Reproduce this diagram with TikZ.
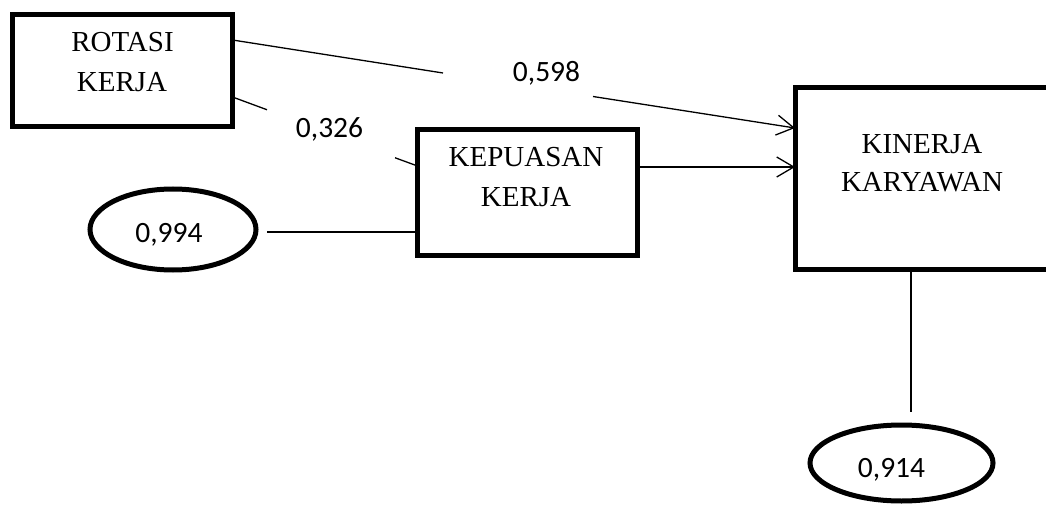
\documentclass[tikz,border=0pt]{standalone}
\usepackage{fontspec}
\setmainfont{Liberation Serif}
\newfontfamily\numfont{Carlito}
\usetikzlibrary{shapes.geometric,arrows.meta}
\begin{document}
\begin{tikzpicture}[x=1pt,y=-1pt,
  box/.style={draw,line width=5pt,rectangle,inner sep=0pt,outer sep=0pt},
  oval/.style={draw,line width=5pt,ellipse,inner sep=0pt,outer sep=0pt},
  lbl/.style={anchor=base,inner sep=0pt,font=\fontsize{29}{35}\selectfont},
  num/.style={anchor=base,inner sep=0pt,font=\numfont\fontsize{29.5}{35}\selectfont},
  conn/.style={line width=1.3pt},
  arr/.style={conn,-{Straight Barb[length=17pt,width=20pt,line width=1.3pt]}}]
\useasboundingbox (0,0) rectangle (1046,505);
\clip (0,0) rectangle (1046,505);
% boxes and ovals
\node[box,minimum width=220pt,minimum height=112pt] (rk) at (122.5,70.5) {};
\node[box,minimum width=220pt,minimum height=126pt] (kp) at (527.5,192.5) {};
\node[box,minimum width=330pt,minimum height=182pt] (kk) at (960,178.5) {};
\node[oval,minimum width=166pt,minimum height=81pt] (e1) at (173,229.5) {};
\node[oval,minimum width=183pt,minimum height=76pt] (e2) at (901.5,463) {};
% texts
\node[lbl] (rk1) at (122.5,52) {ROTASI};
\node[lbl] (rk2) at (122,92) {KERJA};
\node[lbl] (kp1) at (526,167) {KEPUASAN};
\node[lbl] (kp2) at (526,207) {KERJA};
\node[lbl] (kk1) at (922,154) {KINERJA};
\node[lbl] (kk2) at (922,192) {KARYAWAN};
\node[num] (n1) at (546.5,82) {0,598};
\node[num] (n2) at (329.5,138) {0,326};
\node[num] (n3) at (169,242) {0,994};
\node[num] (n4) at (891.5,477) {0,914};
% connectors
\coordinate (a1) at (443,73);
\coordinate (a2) at (593,96.5);
\draw[conn] (rk.east |- 0,40) -- (a1);
\draw[arr] (a2) -- (kk.west |- 0,128);
\coordinate (b1) at (267,109.75);
\coordinate (b2) at (395,157.75);
\draw[conn] (rk.east |- 0,97) -- (b1);
\draw[conn] (b2) -- (kp.west |- 0,166);
\draw[arr] (kp.east |- 0,167) -- (kk.west |- 0,167);
\coordinate (c1) at (267,232);
\draw[conn] (c1) -- (kp.west |- 0,232);
\coordinate (d1) at (911,412);
\draw[conn] (kk.south -| 911,0) -- (d1);
\end{tikzpicture}
\end{document}
